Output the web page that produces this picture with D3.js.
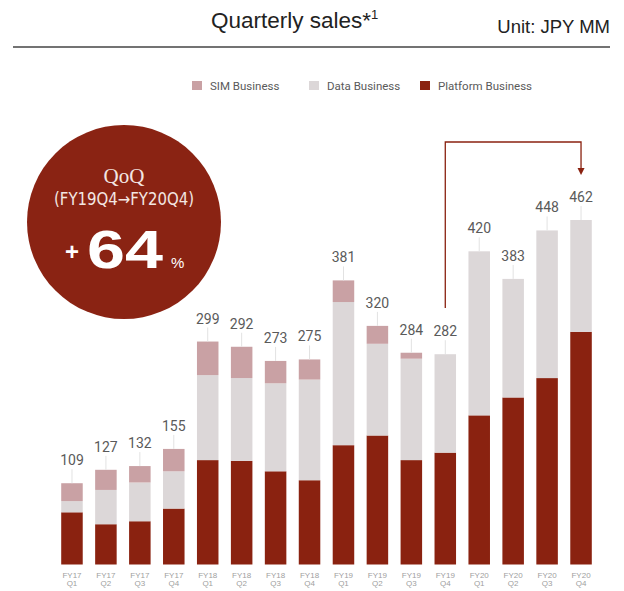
<!DOCTYPE html>
<html>
<head>
<meta charset="utf-8">
<script src="https://cdn.jsdelivr.net/npm/d3@7"></script>
<style>
  html, body { margin: 0; padding: 0; background: #fff; }
  svg { display: block; }
</style>
</head>
<body>
<svg id="chart" width="624" height="591"></svg>
<script>
// Quarterly sales by business line, JPY MM
const quarters = ["FY17 Q1","FY17 Q2","FY17 Q3","FY17 Q4","FY18 Q1","FY18 Q2","FY18 Q3","FY18 Q4",
                  "FY19 Q1","FY19 Q2","FY19 Q3","FY19 Q4","FY20 Q1","FY20 Q2","FY20 Q3","FY20 Q4"];
const platformBusiness = [70, 54, 58, 75, 140, 139, 125, 113, 160, 173, 140, 150, 200, 224, 250, 312];
const dataBusiness     = [15, 46, 52, 50, 114, 111, 118, 135, 192, 123, 136, 132, 220, 159, 198, 150];
const simBusiness      = [24, 27, 22, 30, 45, 42, 30, 27, 29, 24, 8, 0, 0, 0, 0, 0];
const seriesNames = ["Platform Business", "Data Business", "SIM Business"];
const legendOrder = ["SIM Business", "Data Business", "Platform Business"];
const colors = {
  "Platform Business": "#8a2210",
  "Data Business": "#dcd7d8",
  "SIM Business": "#c9a1a4"
};

const svg = d3.select("#chart");
const font = "'Liberation Sans', Arial, sans-serif";

// Title, unit and rule
svg.append("text")
  .attr("x", 211).attr("y", 28)
  .attr("font-family", font).attr("font-size", 22.5).attr("fill", "#222")
  .text("Quarterly sales*")
  .append("tspan").attr("font-size", 13).attr("dy", -9).text("1");
svg.append("text")
  .attr("x", 610).attr("y", 33).attr("text-anchor", "end")
  .attr("font-family", font).attr("font-size", 18.5).attr("fill", "#222")
  .text("Unit: JPY MM");
svg.append("line")
  .attr("x1", 13).attr("x2", 610).attr("y1", 47).attr("y2", 47)
  .attr("stroke", "#444").attr("stroke-width", 1.4);

// Legend
const legendX = [192, 309, 420];
const legend = svg.append("g").selectAll("g").data(legendOrder).join("g")
  .attr("transform", (d, i) => `translate(${legendX[i]},81)`);
legend.append("rect").attr("width", 10).attr("height", 9).attr("fill", d => colors[d]);
legend.append("text").attr("x", 18).attr("y", 9)
  .attr("font-family", "Roboto, 'Liberation Sans', sans-serif").attr("font-size", 11.5)
  .attr("fill", "#5a5a5a").text(d => d);

// Scales
const x = d3.scaleBand().domain(quarters).range([55, 598]).paddingInner(0.366).paddingOuter(0.183);
const y = d3.scaleLinear().domain([0, 462]).range([564.5, 220]);

// Stacked bars
const rows = quarters.map((q, i) => ({
  quarter: q,
  "Platform Business": platformBusiness[i],
  "Data Business": dataBusiness[i],
  "SIM Business": simBusiness[i]
}));
const stacked = d3.stack().keys(seriesNames)(rows);

svg.append("g").selectAll("g").data(stacked).join("g")
  .attr("fill", d => colors[d.key])
  .selectAll("rect").data(d => d).join("rect")
  .attr("x", d => x(d.data.quarter))
  .attr("width", x.bandwidth())
  .attr("y", d => y(d[1]))
  .attr("height", d => y(d[0]) - y(d[1]));

// Totals with leader lines
const totals = rows.map(r => ({ quarter: r.quarter, total: seriesNames.reduce((s, k) => s + r[k], 0) }));
const labels = svg.append("g");
labels.selectAll("line").data(totals).join("line")
  .attr("x1", d => x(d.quarter) + x.bandwidth() / 2)
  .attr("x2", d => x(d.quarter) + x.bandwidth() / 2)
  .attr("y1", d => y(d.total) - 14)
  .attr("y2", d => y(d.total))
  .attr("stroke", "#e2e2e2").attr("stroke-width", 1);
labels.selectAll("text").data(totals).join("text")
  .attr("x", d => x(d.quarter) + x.bandwidth() / 2)
  .attr("y", d => y(d.total) - 18)
  .attr("text-anchor", "middle")
  .attr("font-family", "Roboto, 'Liberation Sans', sans-serif").attr("font-size", 14)
  .attr("fill", "#5a5a5a").text(d => d.total);

// Category axis, two-line labels
const xAxis = svg.append("g").attr("transform", `translate(0,${y(0)})`)
  .call(d3.axisBottom(x).tickSize(0).tickPadding(0).tickFormat(""));
xAxis.select(".domain").remove();
xAxis.selectAll(".tick text").remove();
xAxis.selectAll(".tick").append("text")
  .attr("text-anchor", "middle")
  .attr("font-family", font).attr("font-size", 8).attr("fill", "#a0a0a0")
  .selectAll("tspan").data(d => d.split(" ")).join("tspan")
  .attr("x", 0).attr("y", (d, i) => 13 + i * 8.5).text(d => d);

// Growth arrow from FY19 Q4 to FY20 Q4
const fromX = x("FY19 Q4") + x.bandwidth() / 2;
const toX = x("FY20 Q4") + x.bandwidth() / 2;
const arrowColor = "#8a2210";
svg.append("path")
  .attr("d", `M${fromX},308 V142 H${toX} V170`)
  .attr("fill", "none").attr("stroke", arrowColor).attr("stroke-width", 1.3);
svg.append("path")
  .attr("d", `M${toX - 3.5},168 L${toX + 3.5},168 L${toX},175 Z`)
  .attr("fill", arrowColor);

// QoQ badge
const badge = svg.append("g").attr("transform", "translate(124,222)");
badge.append("circle").attr("r", 97).attr("fill", "#8a2313");
badge.append("text").attr("y", -39).attr("text-anchor", "middle")
  .attr("font-family", "'Liberation Serif', 'Times New Roman', serif").attr("font-size", 21)
  .attr("fill", "#f3e6e2").text("QoQ");
badge.append("text").attr("y", -17).attr("text-anchor", "middle")
  .attr("font-family", "'DejaVu Sans', sans-serif").attr("font-size", 17)
  .attr("textLength", 140).attr("lengthAdjust", "spacingAndGlyphs")
  .attr("fill", "#f3e6e2").text("(FY19Q4→FY20Q4)");
badge.append("text").attr("x", -59).attr("y", 38)
  .attr("font-family", font).attr("font-size", 24).attr("font-weight", "bold")
  .attr("fill", "#ffffff").text("+");
badge.append("text").attr("x", -37).attr("y", 46)
  .attr("font-family", font).attr("font-size", 54).attr("font-weight", "bold")
  .attr("textLength", 76).attr("lengthAdjust", "spacingAndGlyphs")
  .attr("fill", "#ffffff").text("64");
badge.append("text").attr("x", 47).attr("y", 46)
  .attr("font-family", font).attr("font-size", 15)
  .attr("fill", "#ffffff").text("%");
</script>
</body>
</html>
